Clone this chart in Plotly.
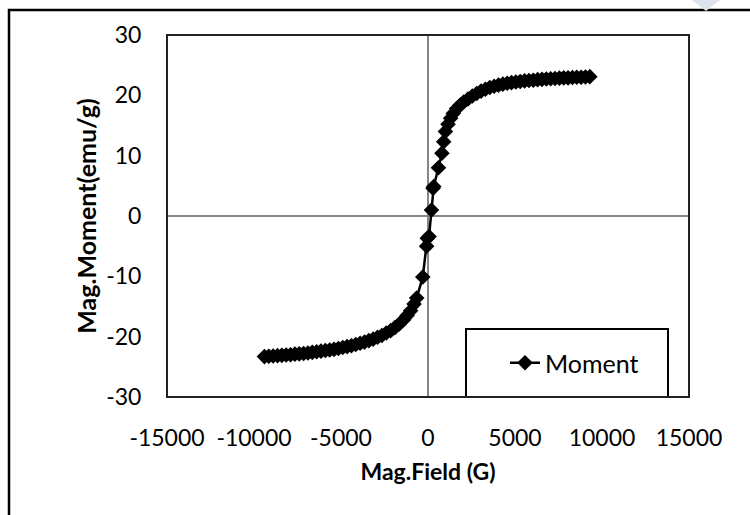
import plotly.graph_objects as go

# Magnetic field (G) and moment (emu/g)
field = [-9400, -9150, -8900, -8650, -8400, -8150, -7900, -7650, -7400, -7150,
         -6900, -6650, -6400, -6150, -5900, -5650, -5400, -5150, -4900, -4650,
         -4400, -4150, -3900, -3650, -3400, -3150, -2900, -2650, -2400, -2150,
         -1900, -1650, -1400, -1200, -1000, -800, -650, -300, -80, -40,
         60, 200, 290, 330, 600, 800, 900, 1000, 1150, 1300,
         1450, 1650, 1850, 2050, 2300, 2550, 2800, 3050, 3300, 3550,
         3800, 4050, 4300, 4550, 4800, 5050, 5300, 5550, 5800, 6050,
         6300, 6550, 6800, 7050, 7300, 7550, 7800, 8050, 8300, 8550,
         8800, 9050, 9300]
moment = [-23.3, -23.25, -23.2, -23.15, -23.1, -23.05, -23.0, -22.9, -22.85, -22.8,
          -22.7, -22.6, -22.5, -22.4, -22.3, -22.2, -22.1, -21.95, -21.8, -21.65,
          -21.5, -21.3, -21.1, -20.9, -20.65, -20.4, -20.1, -19.8, -19.4, -19.0,
          -18.5, -17.9, -17.2, -16.5, -15.7, -14.6, -13.6, -10.1, -5.0, -3.7,
          -3.4, 1.0, 4.6, 4.9, 8.0, 10.4, 12.3, 14.0, 15.2, 16.2,
          17.0, 17.8, 18.4, 18.9, 19.4, 19.9, 20.3, 20.7, 21.0, 21.3,
          21.5, 21.7, 21.85, 22.0, 22.1, 22.2, 22.3, 22.4, 22.45, 22.5,
          22.6, 22.65, 22.7, 22.75, 22.8, 22.85, 22.9, 22.9, 22.95, 23.0,
          23.0, 23.05, 23.1]

x_ticks = [-15000, -10000, -5000, 0, 5000, 10000, 15000]
y_ticks = [-30, -20, -10, 0, 10, 20, 30]

FONT = "Lato"
W, H = 750, 515
L, R, T, B = 167, 61, 35, 118
pw, ph = W - L - R, H - T - B


def px(xp):
    return (xp - L) / pw


def py(yp):
    return (H - B - yp) / ph


fig = go.Figure()
fig.add_trace(go.Scatter(
    x=field, y=moment, mode="lines+markers", name="Moment",
    line=dict(color="black", width=2.5),
    marker=dict(symbol="diamond", size=12, color="black"),
))

fig.update_layout(
    width=W, height=H,
    margin=dict(l=L, r=R, t=T, b=B),
    paper_bgcolor="white", plot_bgcolor="white",
    font=dict(family=FONT, size=23, color="black"),
    showlegend=True,
    legend=dict(x=px(505), y=py(363), xanchor="left", yanchor="middle",
                bgcolor="rgba(0,0,0,0)", borderwidth=0,
                font=dict(family=FONT, size=25, color="black")),
    xaxis=dict(range=[-15000, 15000], tickvals=x_ticks,
               ticktext=[str(v) for v in x_ticks],
               showgrid=False, zeroline=True, zerolinecolor="#868686", zerolinewidth=1.5,
               showline=False, ticks="outside", ticklen=20, tickcolor="rgba(0,0,0,0)",
               title=dict(text="<b>Mag.Field (G)</b>", font=dict(family=FONT, size=23), standoff=14)),
    yaxis=dict(range=[-30, 30], tickvals=y_ticks,
               ticktext=[str(v) for v in y_ticks],
               showgrid=False, zeroline=True, zerolinecolor="#868686", zerolinewidth=1.5,
               showline=False, ticks="outside", ticklen=20, tickcolor="rgba(0,0,0,0)",
               title=dict(text="<b>Mag.Moment(emu/g)</b>", font=dict(family=FONT, size=25), standoff=2)),
    shapes=[
        # plot area frame
        dict(type="rect", xref="paper", yref="paper", x0=0, x1=1, y0=0, y1=1,
             line=dict(color="#222", width=2), layer="above"),
        # legend box
        dict(type="rect", xref="paper", yref="paper", x0=px(466), x1=px(668),
             y0=py(397), y1=py(329), line=dict(color="black", width=2),
             fillcolor="white", layer="below"),
        # outer chart border
        dict(type="rect", xref="paper", yref="paper", x0=px(9), x1=px(800),
             y0=py(560), y1=py(10), line=dict(color="black", width=2.5), layer="above"),
        # small page decoration at top right
        dict(type="path", xref="paper", yref="paper",
             path=f"M {px(692)} {py(0)} L {px(720)} {py(0)} L {px(706)} {py(11)} Z",
             fillcolor="#dce3ec", line=dict(width=0), layer="above"),
    ],
)

fig.write_html("out.html")
